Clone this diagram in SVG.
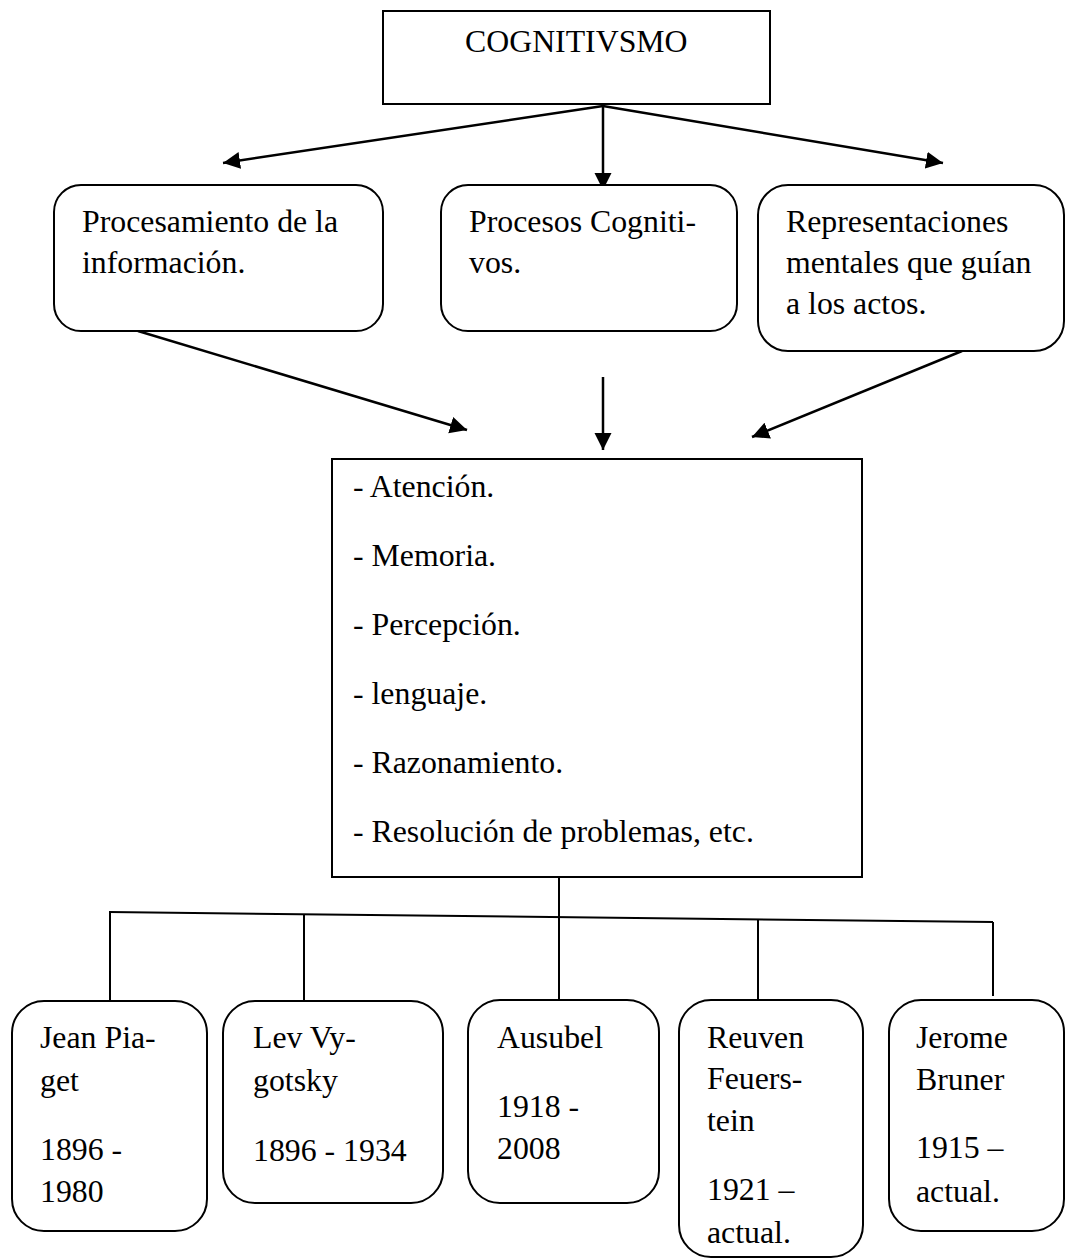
<svg xmlns="http://www.w3.org/2000/svg" width="1066" height="1259" viewBox="0 0 1066 1259">
  <style>
    .box { fill: #ffffff; stroke: #000000; stroke-width: 2; }
    .lbl { font-family: "Liberation Serif", "Times New Roman", serif; font-size: 31.8px; fill: #000000; }
    .wire { fill: none; stroke: #000000; stroke-width: 2; }
    .arrow { fill: none; stroke: #000000; stroke-width: 2.5; marker-end: url(#head); }
  </style>
  <defs>
    <marker id="head" markerUnits="userSpaceOnUse" markerWidth="20" markerHeight="18" refX="17" refY="8.5" orient="auto">
      <path d="M0,0 L17,8.5 L0,17 z" fill="#000000"/>
    </marker>
  </defs>
  <rect width="1066" height="1259" fill="#ffffff"/>

  <!-- connectors -->
  <g id="connectors">
    <path class="arrow" d="M603,104 L603,190"/>
    <path class="arrow" d="M603,106 L223,163"/>
    <path class="arrow" d="M603,106 L943,163"/>
    <path class="arrow" d="M138,331 L467,430"/>
    <path class="arrow" d="M603,377 L603,450"/>
    <path class="arrow" d="M962,351 L752,437"/>
    <path class="wire" d="M559,877 L559,1000"/>
    <path class="wire" d="M109,912 L993,922"/>
    <path class="wire" d="M110,912 L110,1001"/>
    <path class="wire" d="M304,914 L304,1001"/>
    <path class="wire" d="M758,920 L758,1000"/>
    <path class="wire" d="M993,922 L993,996"/>
  </g>

  <g id="cognitivismo">
    <rect class="box" x="383" y="11" width="387" height="93"/>
    <text class="lbl" x="465" y="52">COGNITIVSMO</text>
  </g>

  <g id="procesamiento">
    <rect class="box" x="54" y="185" width="329" height="146" rx="27"/>
    <text class="lbl" x="82" y="232">Procesamiento de la</text>
    <text class="lbl" x="82" y="273">información.</text>
  </g>

  <g id="procesos">
    <rect class="box" x="441" y="185" width="296" height="146" rx="27"/>
    <text class="lbl" x="469" y="232">Procesos Cogniti-</text>
    <text class="lbl" x="469" y="273">vos.</text>
  </g>

  <g id="representaciones">
    <rect class="box" x="758" y="185" width="306" height="166" rx="30"/>
    <text class="lbl" x="786" y="232">Representaciones</text>
    <text class="lbl" x="786" y="273">mentales que guían</text>
    <text class="lbl" x="786" y="314">a los actos.</text>
  </g>

  <g id="lista-procesos">
    <rect class="box" x="332" y="459" width="530" height="418"/>
    <text class="lbl" x="353" y="497">- Atención.</text>
    <text class="lbl" x="353" y="566">- Memoria.</text>
    <text class="lbl" x="353" y="635">- Percepción.</text>
    <text class="lbl" x="353" y="704">- lenguaje.</text>
    <text class="lbl" x="353" y="773">- Razonamiento.</text>
    <text class="lbl" x="353" y="842">- Resolución de problemas, etc.</text>
  </g>

  <g id="piaget">
    <rect class="box" x="12" y="1001" width="195" height="230" rx="32"/>
    <text class="lbl" x="40" y="1048">Jean Pia-</text>
    <text class="lbl" x="40" y="1091">get</text>
    <text class="lbl" x="40" y="1160">1896 -</text>
    <text class="lbl" x="40" y="1202">1980</text>
  </g>

  <g id="vygotsky">
    <rect class="box" x="223" y="1001" width="220" height="202" rx="32"/>
    <text class="lbl" x="253" y="1048">Lev Vy-</text>
    <text class="lbl" x="253" y="1091">gotsky</text>
    <text class="lbl" x="253" y="1161">1896 - 1934</text>
  </g>

  <g id="ausubel">
    <rect class="box" x="468" y="1000" width="191" height="203" rx="32"/>
    <text class="lbl" x="497" y="1048">Ausubel</text>
    <text class="lbl" x="497" y="1117">1918 -</text>
    <text class="lbl" x="497" y="1159">2008</text>
  </g>

  <g id="feuerstein">
    <rect class="box" x="679" y="1000" width="184" height="257" rx="32"/>
    <text class="lbl" x="707" y="1048">Reuven</text>
    <text class="lbl" x="707" y="1089">Feuers-</text>
    <text class="lbl" x="707" y="1131">tein</text>
    <text class="lbl" x="707" y="1200">1921 –</text>
    <text class="lbl" x="707" y="1243">actual.</text>
  </g>

  <g id="bruner">
    <rect class="box" x="889" y="1000" width="175" height="231" rx="32"/>
    <text class="lbl" x="916" y="1048">Jerome</text>
    <text class="lbl" x="916" y="1090">Bruner</text>
    <text class="lbl" x="916" y="1158">1915 –</text>
    <text class="lbl" x="916" y="1202">actual.</text>
  </g>
</svg>
